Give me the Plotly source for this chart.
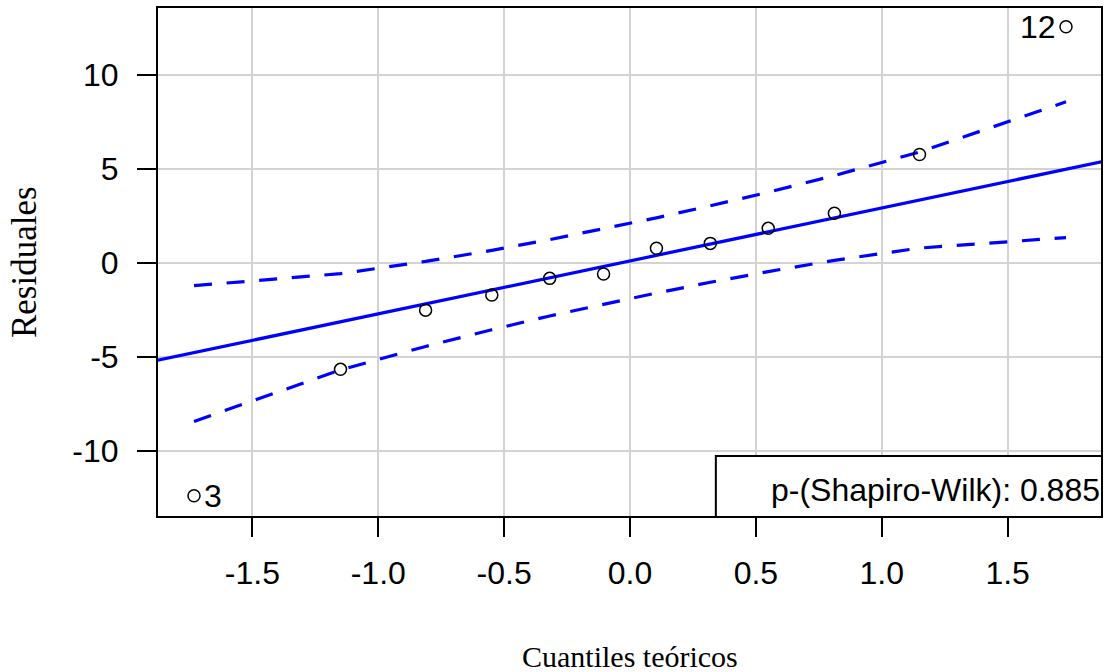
import plotly.graph_objects as go

# ---- data ----
theoretical_q = [-1.732, -1.150, -0.812, -0.549, -0.319, -0.105,
                 0.105, 0.319, 0.549, 0.812, 1.150, 1.732]
residuals = [-12.40, -5.68, -2.53, -1.73, -0.84, -0.61,
             0.76, 1.02, 1.82, 2.62, 5.75, 12.54]
point_labels = ["3", "", "", "", "", "", "", "", "", "", "", "12"]
envelope_upper = [-1.23, -0.59, 0.06, 0.65, 1.22, 1.79,
                  2.38, 3.02, 3.74, 4.63, 5.88, 8.55]
envelope_lower = [-8.45, -5.71, -4.46, -3.57, -2.84, -2.21,
                  -1.62, -1.05, -0.48, 0.12, 0.77, 1.33]
line_intercept = 0.087
line_slope = 2.816
x_range = [-1.875, 1.871]
y_range = [-13.48, 13.54]
x_ticks = [-1.5, -1.0, -0.5, 0.0, 0.5, 1.0, 1.5]
x_tick_labels = ["-1.5", "-1.0", "-0.5", "0.0", "0.5", "1.0", "1.5"]
y_ticks = [-10, -5, 0, 5, 10]
y_tick_labels = ["-10", "-5", "0", "5", "10"]
x_title = "Cuantiles teóricos"
y_title = "Residuales"
sw_text = "p-(Shapiro-Wilk): 0.885"

BLUE = "#0000FF"
fig = go.Figure()

# reference line across the full panel
lx = [x_range[0] - 0.05, x_range[1] + 0.05]
ly = [line_intercept + line_slope * v for v in lx]
fig.add_trace(go.Scatter(x=lx, y=ly, mode="lines",
                         line=dict(color=BLUE, width=3.2), hoverinfo="skip"))

# confidence envelope
for env in (envelope_upper, envelope_lower):
    fig.add_trace(go.Scatter(x=theoretical_q, y=env, mode="lines",
                             line=dict(color=BLUE, width=3.2, dash="18px,14.7px"),
                             hoverinfo="skip"))

# points
fig.add_trace(go.Scatter(
    x=theoretical_q, y=residuals, mode="markers",
    marker=dict(symbol="circle-open", size=12, color="black",
                line=dict(width=1.5, color="black")),
))

# labelled points
for q, r, lab in zip(theoretical_q, residuals, point_labels):
    if lab:
        fig.add_annotation(
            x=q, y=r, text=lab, showarrow=False,
            xanchor="right" if r > 0 else "left",
            xshift=-8 if r > 0 else 8, yshift=0,
            font=dict(family="Liberation Sans, Arial", size=32, color="black"),
        )

# Shapiro-Wilk box
fig.add_shape(type="rect", xref="x", yref="y",
              x0=0.341, x1=x_range[1] + 0.3, y0=-10.29, y1=y_range[0] - 1,
              line=dict(color="black", width=2), fillcolor="white", layer="above")
fig.add_annotation(x=0.551, y=-12.1, xref="x", yref="y", text=sw_text,
                   showarrow=False, xanchor="left", yanchor="middle",
                   font=dict(family="Liberation Sans, Arial", size=32, color="black"))

axis_common = dict(
    showline=True, linecolor="black", linewidth=2, mirror=True,
    showgrid=True, gridcolor="#D3D3D3", gridwidth=2, zeroline=False,
    ticks="outside", ticklen=19, tickwidth=1.5, tickcolor="black",
    tickfont=dict(family="Liberation Sans, Arial", size=32, color="black"),
)
fig.update_xaxes(range=x_range, tickvals=x_ticks, ticktext=x_tick_labels,
                 ticklabelstandoff=9, **axis_common)
fig.update_yaxes(range=y_range, tickvals=y_ticks, ticktext=y_tick_labels,
                 ticklabelstandoff=12, **axis_common)

fig.add_annotation(x=0.5, y=-0.277, xref="paper", yref="paper", text=x_title,
                   showarrow=False, xanchor="center", yanchor="middle",
                   font=dict(family="Liberation Serif, Times New Roman", size=30, color="black"))
fig.add_annotation(x=-0.142, y=0.5, xref="paper", yref="paper", text=y_title,
                   textangle=-90, showarrow=False, xanchor="center", yanchor="middle",
                   font=dict(family="Liberation Serif, Times New Roman", size=35, color="black"))

fig.update_layout(
    width=1106, height=672,
    margin=dict(l=158, r=3, t=8, b=156),
    paper_bgcolor="white", plot_bgcolor="white",
    showlegend=False,
)

fig.write_html("out.html")
